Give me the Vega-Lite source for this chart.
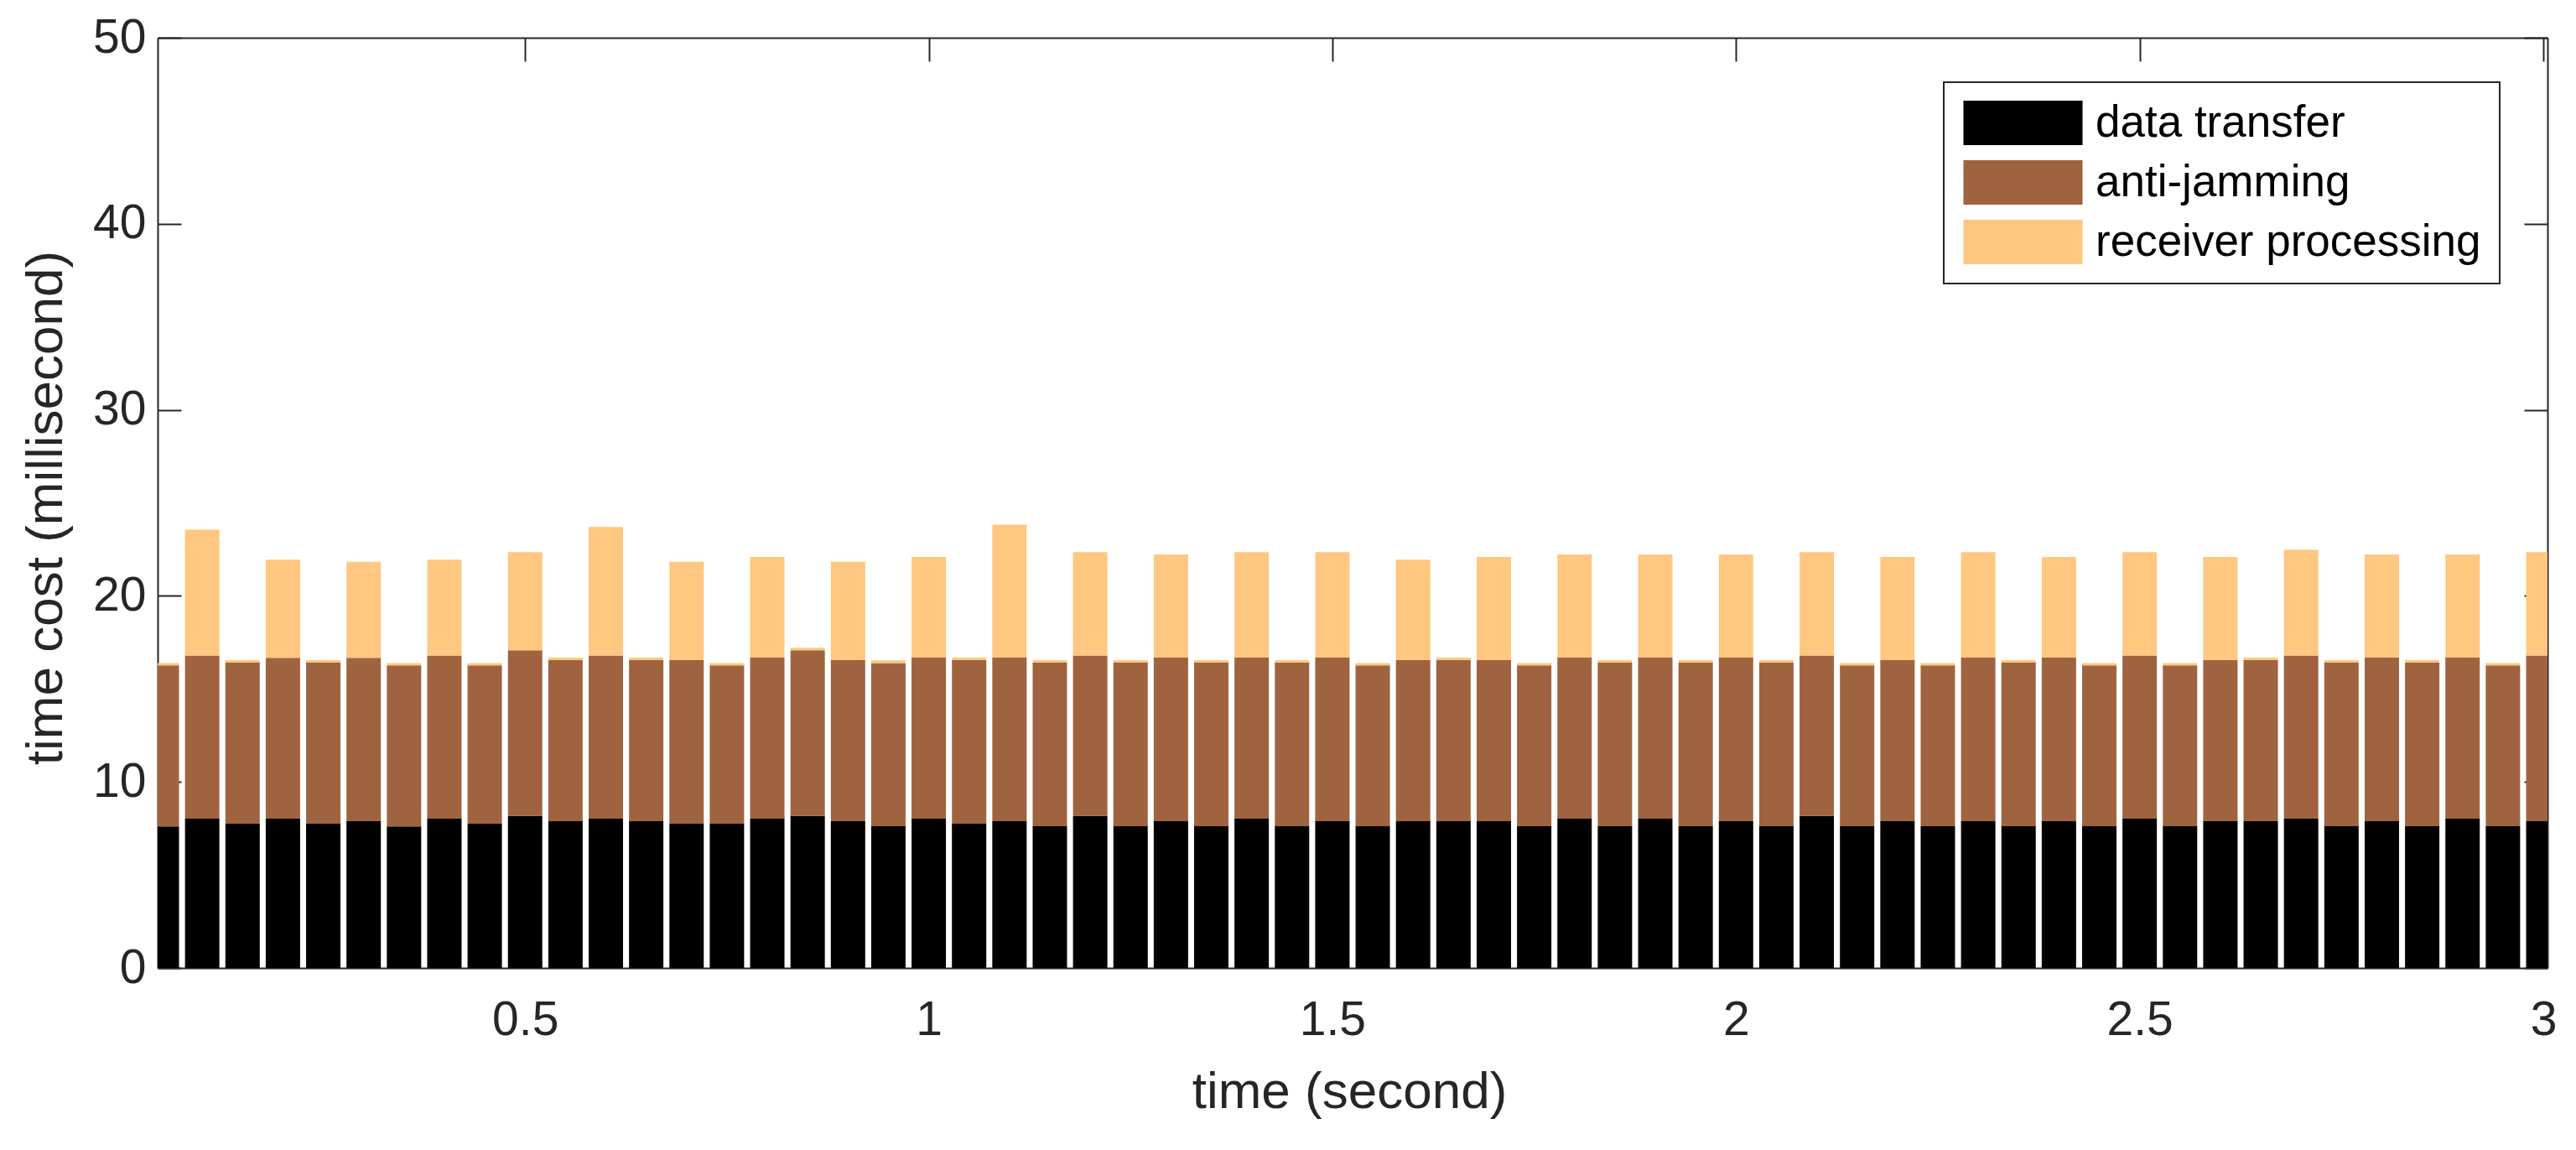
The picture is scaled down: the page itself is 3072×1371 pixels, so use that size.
{
  "$schema": "https://vega.github.io/schema/vega-lite/v6.json",
  "autosize": "none",
  "width": 2850,
  "height": 1109,
  "padding": {"left": 188, "top": 45, "right": 34, "bottom": 217},
  "background": "white",
  "config": {
    "view": {"stroke": null},
    "font": "Liberation Sans",
    "legend": {"strokeWidth": 2},
    "axis": {
      "labelFont": "Liberation Sans",
      "labelFontSize": 57,
      "labelColor": "#262626",
      "titleFont": "Liberation Sans",
      "titleFontSize": 62,
      "titleFontWeight": "normal",
      "titleColor": "#262626",
      "domainColor": "#262626",
      "domainWidth": 2,
      "tickColor": "#262626",
      "tickWidth": 2,
      "tickSize": -28,
      "grid": false
    }
  },
  "data": {
    "values": [
      {"t": 0.05, "transfer": 7.61, "antijam": 8.66, "receiver": 0.12},
      {"t": 0.10, "transfer": 8.03, "antijam": 8.77, "receiver": 6.76},
      {"t": 0.15, "transfer": 7.76, "antijam": 8.65, "receiver": 0.14},
      {"t": 0.20, "transfer": 8.03, "antijam": 8.64, "receiver": 5.28},
      {"t": 0.25, "transfer": 7.76, "antijam": 8.65, "receiver": 0.14},
      {"t": 0.30, "transfer": 7.89, "antijam": 8.78, "receiver": 5.16},
      {"t": 0.35, "transfer": 7.61, "antijam": 8.66, "receiver": 0.12},
      {"t": 0.40, "transfer": 8.03, "antijam": 8.77, "receiver": 5.15},
      {"t": 0.45, "transfer": 7.76, "antijam": 8.51, "receiver": 0.12},
      {"t": 0.50, "transfer": 8.17, "antijam": 8.91, "receiver": 5.27},
      {"t": 0.55, "transfer": 7.89, "antijam": 8.66, "receiver": 0.13},
      {"t": 0.60, "transfer": 8.03, "antijam": 8.77, "receiver": 6.90},
      {"t": 0.65, "transfer": 7.89, "antijam": 8.66, "receiver": 0.13},
      {"t": 0.70, "transfer": 7.76, "antijam": 8.79, "receiver": 5.28},
      {"t": 0.75, "transfer": 7.76, "antijam": 8.51, "receiver": 0.12},
      {"t": 0.80, "transfer": 8.03, "antijam": 8.65, "receiver": 5.41},
      {"t": 0.85, "transfer": 8.17, "antijam": 8.91, "receiver": 0.13},
      {"t": 0.90, "transfer": 7.89, "antijam": 8.66, "receiver": 5.28},
      {"t": 0.95, "transfer": 7.62, "antijam": 8.77, "receiver": 0.14},
      {"t": 1.00, "transfer": 8.03, "antijam": 8.65, "receiver": 5.41},
      {"t": 1.05, "transfer": 7.76, "antijam": 8.79, "receiver": 0.13},
      {"t": 1.10, "transfer": 7.89, "antijam": 8.79, "receiver": 7.15},
      {"t": 1.15, "transfer": 7.62, "antijam": 8.79, "receiver": 0.14},
      {"t": 1.20, "transfer": 8.17, "antijam": 8.63, "receiver": 5.55},
      {"t": 1.25, "transfer": 7.62, "antijam": 8.79, "receiver": 0.14},
      {"t": 1.30, "transfer": 7.89, "antijam": 8.79, "receiver": 5.55},
      {"t": 1.35, "transfer": 7.62, "antijam": 8.79, "receiver": 0.14},
      {"t": 1.40, "transfer": 8.03, "antijam": 8.65, "receiver": 5.67},
      {"t": 1.45, "transfer": 7.62, "antijam": 8.79, "receiver": 0.14},
      {"t": 1.50, "transfer": 7.89, "antijam": 8.79, "receiver": 5.67},
      {"t": 1.55, "transfer": 7.62, "antijam": 8.65, "receiver": 0.12},
      {"t": 1.60, "transfer": 7.89, "antijam": 8.66, "receiver": 5.40},
      {"t": 1.65, "transfer": 7.89, "antijam": 8.66, "receiver": 0.13},
      {"t": 1.70, "transfer": 7.89, "antijam": 8.66, "receiver": 5.54},
      {"t": 1.75, "transfer": 7.62, "antijam": 8.65, "receiver": 0.12},
      {"t": 1.80, "transfer": 8.03, "antijam": 8.65, "receiver": 5.55},
      {"t": 1.85, "transfer": 7.62, "antijam": 8.79, "receiver": 0.14},
      {"t": 1.90, "transfer": 8.03, "antijam": 8.65, "receiver": 5.55},
      {"t": 1.95, "transfer": 7.62, "antijam": 8.79, "receiver": 0.14},
      {"t": 2.00, "transfer": 7.89, "antijam": 8.79, "receiver": 5.55},
      {"t": 2.05, "transfer": 7.62, "antijam": 8.79, "receiver": 0.14},
      {"t": 2.10, "transfer": 8.17, "antijam": 8.63, "receiver": 5.55},
      {"t": 2.15, "transfer": 7.62, "antijam": 8.65, "receiver": 0.12},
      {"t": 2.20, "transfer": 7.89, "antijam": 8.66, "receiver": 5.54},
      {"t": 2.25, "transfer": 7.62, "antijam": 8.65, "receiver": 0.12},
      {"t": 2.30, "transfer": 7.89, "antijam": 8.79, "receiver": 5.67},
      {"t": 2.35, "transfer": 7.62, "antijam": 8.79, "receiver": 0.14},
      {"t": 2.40, "transfer": 7.89, "antijam": 8.79, "receiver": 5.41},
      {"t": 2.45, "transfer": 7.62, "antijam": 8.65, "receiver": 0.12},
      {"t": 2.50, "transfer": 8.03, "antijam": 8.77, "receiver": 5.55},
      {"t": 2.55, "transfer": 7.62, "antijam": 8.65, "receiver": 0.12},
      {"t": 2.60, "transfer": 7.89, "antijam": 8.66, "receiver": 5.54},
      {"t": 2.65, "transfer": 7.89, "antijam": 8.66, "receiver": 0.13},
      {"t": 2.70, "transfer": 8.03, "antijam": 8.77, "receiver": 5.68},
      {"t": 2.75, "transfer": 7.62, "antijam": 8.79, "receiver": 0.14},
      {"t": 2.80, "transfer": 7.89, "antijam": 8.79, "receiver": 5.55},
      {"t": 2.85, "transfer": 7.62, "antijam": 8.79, "receiver": 0.14},
      {"t": 2.90, "transfer": 8.03, "antijam": 8.65, "receiver": 5.55},
      {"t": 2.95, "transfer": 7.62, "antijam": 8.65, "receiver": 0.12},
      {"t": 3.00, "transfer": 7.89, "antijam": 8.91, "receiver": 5.55}
    ]
  },
  "transform": [
    {"fold": ["transfer", "antijam", "receiver"], "as": ["series", "ms"]},
    {
      "lookup": "series",
      "from": {
        "data": {"values": [
          {"series": "transfer", "rank": 1},
          {"series": "antijam", "rank": 2},
          {"series": "receiver", "rank": 3}
        ]},
        "key": "series",
        "fields": ["rank"]
      }
    }
  ],
  "layer": [
    {
      "mark": {"type": "bar", "width": 41, "clip": true},
      "encoding": {
        "x": {
          "field": "t", "type": "quantitative",
          "scale": {"domain": [0.05, 3], "nice": false, "zero": false},
          "axis": {
            "orient": "bottom",
            "values": [0.5, 1, 1.5, 2, 2.5, 3],
            "format": "~g",
            "title": "time (second)",
            "labelPadding": 90,
            "labelBaseline": "middle",
            "titleX": 1421,
            "titleY": 147,
            "titleBaseline": "middle"
          }
        },
        "y": {
          "field": "ms", "type": "quantitative", "stack": "zero",
          "scale": {"domain": [0, 50], "nice": false},
          "axis": {
            "orient": "left",
            "values": [0, 10, 20, 30, 40, 50],
            "title": "time cost (millisecond)",
            "labelPadding": 42,
            "titleX": -134,
            "titleY": 560,
            "titleBaseline": "middle",
            "titleAngle": -90
          }
        },
        "color": {
          "field": "series", "type": "nominal",
          "scale": {"domain": ["transfer", "antijam", "receiver"], "range": ["#000000", "#9F643F", "#FFC77F"]},
          "legend": {
            "orient": "none",
            "legendX": 2130,
            "legendY": 53,
            "title": null,
            "strokeColor": "#262626",
            "padding": 22,
            "symbolType": "M-2.68,-1H2.68V1H-2.68Z",
            "symbolSize": 2809,
            "symbolOffset": 46,
            "symbolStrokeWidth": 0,
            "symbolOpacity": 1,
            "labelFont": "Liberation Sans",
            "labelFontSize": 53,
            "labelColor": "#000000",
            "labelOffset": 60,
            "labelLimit": 0,
            "rowPadding": 17,
            "labelExpr": "datum.value == 'transfer' ? 'data transfer' : datum.value == 'antijam' ? 'anti-jamming' : 'receiver processing'"
          }
        },
        "order": {"field": "rank", "type": "quantitative", "sort": "ascending"}
      }
    },
    {
      "mark": {"type": "point", "opacity": 0},
      "encoding": {
        "x": {
          "field": "t", "type": "quantitative",
          "axis": {"orient": "top", "values": [0.5, 1, 1.5, 2, 2.5, 3], "labels": false, "title": null}
        },
        "y": {
          "field": "ms", "type": "quantitative",
          "axis": {"orient": "right", "values": [0, 10, 20, 30, 40, 50], "labels": false, "title": null}
        }
      }
    }
  ],
  "resolve": {"axis": {"x": "independent", "y": "independent"}}
}
